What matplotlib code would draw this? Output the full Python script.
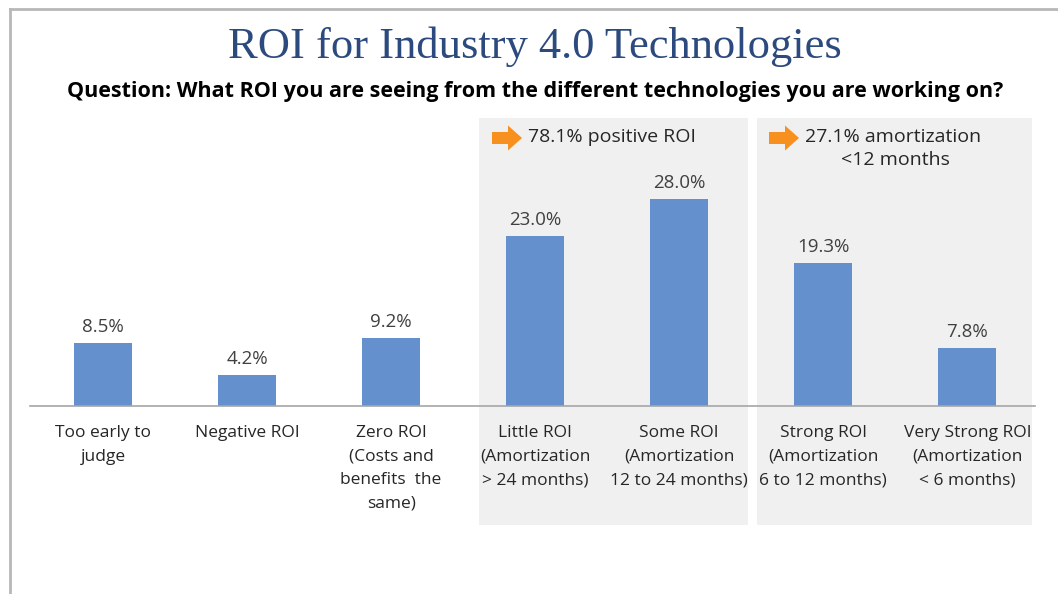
import matplotlib
matplotlib.use("Agg")
import matplotlib.pyplot as plt
from matplotlib.patches import Rectangle, FancyArrow
from matplotlib.lines import Line2D

# data
categories = [
    "Too early to\njudge",
    "Negative ROI",
    "Zero ROI\n(Costs and\nbenefits  the\nsame)",
    "Little ROI\n(Amortization\n> 24 months)",
    "Some ROI\n(Amortization\n12 to 24 months)",
    "Strong ROI\n(Amortization\n6 to 12 months)",
    "Very Strong ROI\n(Amortization\n< 6 months)",
]
values = [8.5, 4.2, 9.2, 23.0, 28.0, 19.3, 7.8]
groups = [(3, 4, "78.1% positive ROI"), (5, 6, "27.1% amortization\n<12 months")]

title = "ROI for Industry 4.0 Technologies"
subtitle = "Question: What ROI you are seeing from the different technologies you are working on?"

W, H = 1058, 594
fig = plt.figure(figsize=(W / 100, H / 100), dpi=100)
fig.patch.set_facecolor("white")

# axes: baseline at y=406px, x from 30 to 1035px
ax = fig.add_axes([30 / W, (H - 406) / H, 1005 / W, (406 - 118) / H])
ax.set_xlim(-0.507, 6.47)
ax.set_ylim(0, (406 - 118) / 7.41)
ax.set_facecolor("none")
for s in ["top", "right", "left"]:
    ax.spines[s].set_visible(False)
ax.spines["bottom"].set_color("#a6a6a6")
ax.spines["bottom"].set_linewidth(1.2)
ax.set_yticks([])

# grey boxes behind the positive ROI groups
ylo = -(525 - 406) / 7.41
yhi = (406 - 118) / 7.41
for (a, b, _), (x0, x1) in zip(groups, [(2.611, 4.479), (4.542, 6.451)]):
    ax.add_patch(Rectangle((x0, ylo), x1 - x0, yhi - ylo, facecolor="#f0f0f0",
                           edgecolor="none", clip_on=False, zorder=0))

x = list(range(len(values)))
bars = ax.bar(x, values, width=0.4, color="#6590ce", zorder=2)
for xi, v in zip(x, values):
    ax.annotate(f"{v:.1f}%", (xi, v), xytext=(0, 11.5), textcoords="offset points",
                ha="center", va="center", fontsize=13.5, color="#404040",
                family="Open Sans")

ax.set_xticks(x)
ax.set_xticklabels(categories, fontsize=12.5, color="#262626", family="Open Sans",
                   linespacing=1.62)
ax.tick_params(axis="x", length=0, pad=14)

# group annotations with orange arrows
for (a, b, txt), (ax0, tx) in zip(groups, [(492, 528), (769, 805)]):
    fig.add_artist(FancyArrow(ax0 / 100, (H - 138) / 100, 0.30, 0, width=0.12,
                              head_width=0.25, head_length=0.14, length_includes_head=True,
                              color="#f7901e", lw=0, transform=fig.dpi_scale_trans))
    lines = txt.split("\n")
    fig.text(tx / W, 1 - 137 / H, lines[0], ha="left", va="center", fontsize=14,
             color="#262626", family="Open Sans")
    if len(lines) > 1:
        fig.text(895 / W, 1 - 160 / H, lines[1], ha="center", va="center", fontsize=14,
                 color="#262626", family="Open Sans")

fig.text(535 / W, 1 - 47 / H, title, ha="center", va="center", fontsize=32,
         color="#2c4a7e", family="Liberation Serif")
fig.text(535 / W, 1 - 92 / H, subtitle, ha="center", va="center", fontsize=15.5,
         color="black", family="Open Sans", weight="bold")

# slide border
fig.add_artist(Line2D([10 / W, 10 / W], [0, 1 - 9 / H], color="#b8b8b8", lw=2,
                      transform=fig.transFigure))
fig.add_artist(Line2D([10 / W, 1], [1 - 9 / H, 1 - 9 / H], color="#b8b8b8", lw=2,
                      transform=fig.transFigure))

fig.savefig("out.png", dpi=100)
